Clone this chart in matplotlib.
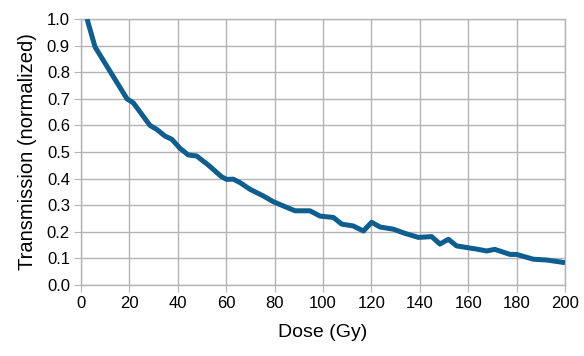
import matplotlib.pyplot as plt

# dose (Gy) vs normalized transmission
dose = [2.5, 5.8, 19, 21.6, 28.5, 31.3, 34.7, 37.5, 40.9, 44.3, 47.8, 52.6,
        58.1, 60.2, 62.9, 65.7, 69.8, 75.3, 79.5, 88.4, 94.6, 98.8, 104.3,
        107.7, 112.5, 116.7, 120.1, 123.6, 129, 133.9, 139.4, 144.9, 148.3,
        151.8, 155.2, 163.5, 167.6, 171, 177.3, 180, 186.9, 192.4, 200]
trans = [1.0, 0.895, 0.70, 0.685, 0.60, 0.585, 0.56, 0.548, 0.514, 0.489,
         0.485, 0.451, 0.407, 0.397, 0.398, 0.385, 0.36, 0.335, 0.313, 0.279,
         0.279, 0.259, 0.254, 0.229, 0.222, 0.203, 0.236, 0.218, 0.21, 0.194,
         0.179, 0.182, 0.154, 0.172, 0.147, 0.135, 0.128, 0.134, 0.115, 0.115,
         0.097, 0.094, 0.084]

xticks = list(range(0, 201, 20))
yticks = [i / 10 for i in range(11)]

plt.rcParams['font.family'] = ['Liberation Sans', 'DejaVu Sans']

fig = plt.figure(figsize=(5.84, 3.56), dpi=100)
ax = fig.add_axes([0.1387, 0.1994, 0.8288, 0.7472])

grid_c = '#b3b3b3'
ax.plot(dose, trans, color='#0e5e90', lw=3.6, solid_joinstyle='round',
        solid_capstyle='butt', zorder=3)

ax.set_xlim(0, 200)
ax.set_ylim(0, 1.0)
ax.set_xticks(xticks)
ax.set_yticks(yticks)
ax.set_yticklabels([f"{v:.1f}" for v in yticks])
ax.grid(True, color=grid_c, lw=1)
for s in ax.spines.values():
    s.set_color(grid_c)
    s.set_linewidth(1)
ax.tick_params(direction='out', length=5, color=grid_c, labelsize=12,
               pad=3)

ax.set_xlabel("Dose (Gy)", fontsize=14, labelpad=9)
ax.set_ylabel("Transmission (normalized)", fontsize=14.5, labelpad=7)

fig.savefig("out.png", dpi=100)
